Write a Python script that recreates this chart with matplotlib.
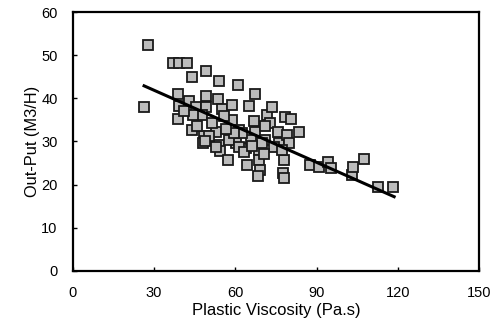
import matplotlib
matplotlib.use('Agg')
import matplotlib.pyplot as plt

plt.rcParams['font.family'] = ['Liberation Sans', 'DejaVu Sans']

# Datos
viscosidad = [27.8, 26.1, 36.8, 39.3, 42.1, 43.9, 49.2, 53.9, 60.8, 67.2,
              65.1, 38.7, 39.3, 38.9, 42.7, 45.4, 49.1, 49.1, 53.5, 55.0,
              58.6, 47.6, 43.9, 48.3, 48.2, 52.8, 54.0, 54.5, 57.3, 51.5,
              58.9, 60.1, 63.8, 64.4, 61.3, 66.8, 67.4, 68.7, 68.9, 69.0,
              68.4, 71.1, 71.7, 73.6, 72.6, 75.8, 76.0, 77.8, 77.5, 78.5,
              79.2, 79.7, 80.7, 83.6, 87.4, 90.7, 94.1, 95.3, 102.9, 103.5,
              107.5, 112.7, 118.0, 46.0, 50.3, 57.7, 61.3, 65.6, 52.8, 44.2,
              55.8, 62.5, 69.9, 74.2, 77.2, 71.1, 59.5, 63.0, 66.0, 56.5,
              48.8, 70.5, 78.0, 41.0]
produccion = [52.3, 38.0, 48.2, 48.2, 48.2, 45.0, 46.3, 44.1, 43.1, 40.9,
              38.3, 40.9, 38.3, 35.3, 39.3, 38.1, 40.5, 38.1, 39.9, 37.5,
              38.5, 36.2, 32.7, 31.2, 29.6, 32.3, 29.2, 27.7, 25.7, 34.3,
              35.0, 29.6, 28.4, 24.6, 32.7, 34.7, 32.3, 28.1, 25.7, 23.4,
              21.9, 30.4, 36.2, 38.1, 34.3, 32.3, 29.6, 25.7, 22.6, 35.7,
              31.6, 29.6, 35.1, 32.3, 24.6, 24.2, 25.3, 23.8, 22.2, 24.2,
              25.9, 19.5, 19.5, 33.6, 31.2, 30.4, 28.8, 30.4, 28.8, 36.2,
              35.8, 31.9, 29.6, 28.8, 28.1, 33.5, 32.0, 27.5, 29.0, 33.0,
              30.0, 27.0, 21.5, 37.0]

# Recta de tendencia
tendencia_x = [26.3, 118.6]
tendencia_y = [42.9, 17.2]

xticks = [0, 30, 60, 90, 120, 150]
yticks = [0, 10, 20, 30, 40, 50, 60]

fig = plt.figure(figsize=(4.92, 3.26), dpi=100)
ax = fig.add_axes([0.148, 0.169, 0.826, 0.794])

ax.plot(viscosidad, produccion, 's', markersize=7.8, markerfacecolor='#bcbcbc',
        markeredgecolor='#1a1a1a', markeredgewidth=1.3, linestyle='none')
ax.plot(tendencia_x, tendencia_y, color='black', linewidth=2.2)

ax.set_xlim(0, 150)
ax.set_ylim(0, 60)
ax.set_xticks(xticks)
ax.set_yticks(yticks)
ax.tick_params(direction='in', length=3, width=1, pad=11, labelsize=10.5)
for s in ax.spines.values():
    s.set_linewidth(1.6)

ax.set_xlabel('Plastic Viscosity (Pa.s)', fontsize=12, labelpad=2)
ax.set_ylabel('Out-Put (M3/H)', fontsize=11.8, labelpad=1)

fig.savefig('out.png', dpi=100)
